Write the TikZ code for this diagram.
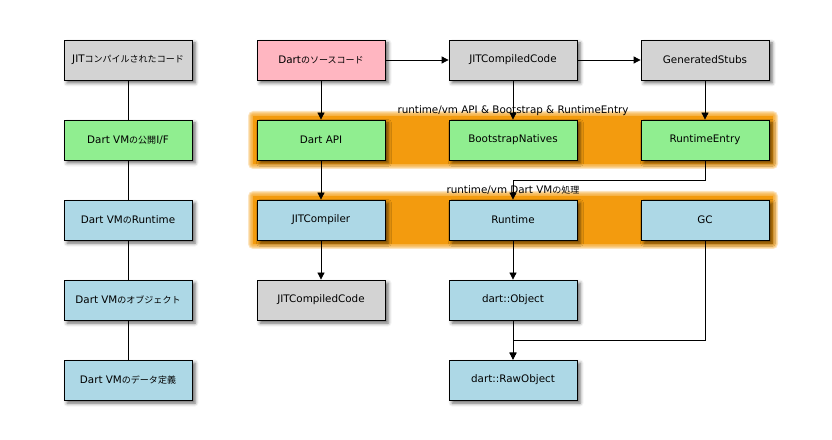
\documentclass[tikz,border=0pt]{standalone}
\usepackage{fontspec}
\setmainfont{DejaVu Sans}
\newfontfamily\jpfont[Scale=0.87]{Noto Sans CJK JP}
\usetikzlibrary{arrows.meta,shadows.blur}
\definecolor{srcpink}{RGB}{255,182,193}
\definecolor{codegray}{RGB}{211,211,211}
\definecolor{apigreen}{RGB}{144,238,144}
\definecolor{vmblue}{RGB}{173,216,230}
\definecolor{bandorange}{RGB}{243,155,14}
\tikzset{
    box/.style={draw, line width=0.8bp, minimum width=128bp, minimum height=40bp, inner sep=0pt,
        font=\fontsize{10.4}{12}\selectfont,
        blur shadow={shadow xshift=3bp, shadow yshift=-3bp, shadow blur radius=3.5bp, shadow opacity=60}},
    arr/.style={-{Triangle[width=7bp,length=7bp]}, line width=0.8bp},
    link/.style={line width=0.8bp},
    bandlabel/.style={font=\fontsize{10.4}{12}\selectfont, inner sep=0pt}
}
\begin{document}
\begin{tikzpicture}[x=1bp,y=-1bp]
                \useasboundingbox (0,0) rectangle (832,440);
                % orange bands
                \foreach \y in {140,220} {
                    \fill[bandorange] (253,\y-24) rectangle (773,\y+24);
                    \foreach \d in {1,...,5}
                        \fill[bandorange, opacity=0.25, rounded corners=\d bp] (253-\d,\y-24-\d) rectangle (773+\d,\y+24+\d);
                }
                \node[bandlabel] (bandapi) at (513,110.5) {runtime/vm API \& Bootstrap \& RuntimeEntry};
                \node[bandlabel] (bandvm) at (513,190.5) {runtime/vm Dart VM{\jpfont の処理}};
                % left column
                \node[box, fill=codegray] (lcode) at (128,60) {JIT{\jpfont コンパイルされたコード}};
                \node[box, fill=apigreen] (lapi) at (128,140) {Dart VM{\jpfont の公開}I/F};
                \node[box, fill=vmblue] (lrt) at (128,220) {Dart VM{\jpfont の}Runtime};
                \node[box, fill=vmblue] (lobj) at (128,300) {Dart VM{\jpfont のオブジェクト}};
                \node[box, fill=vmblue] (ldata) at (128,380) {Dart VM{\jpfont のデータ定義}};
                % main graph
                \node[box, fill=srcpink] (src) at (321,60) {Dart{\jpfont のソースコード}};
                \node[box, fill=codegray] (jit) at (513,60) {JITCompiledCode};
                \node[box, fill=codegray] (stubs) at (705,60) {GeneratedStubs};
                \node[box, fill=apigreen] (api) at (321,140) {Dart API};
                \node[box, fill=apigreen] (boot) at (513,140) {BootstrapNatives};
                \node[box, fill=apigreen] (entry) at (705,140) {RuntimeEntry};
                \node[box, fill=vmblue] (comp) at (321,220) {JITCompiler};
                \node[box, fill=vmblue] (rt) at (513,220) {Runtime};
                \node[box, fill=vmblue] (gc) at (705,220) {GC};
                \node[box, fill=codegray] (jitout) at (321,300) {JITCompiledCode};
                \node[box, fill=vmblue] (obj) at (513,300) {dart::Object};
                \node[box, fill=vmblue] (raw) at (513,380) {dart::RawObject};
                % connectors
                \draw[link] (lcode) -- (lapi);
                \draw[link] (lapi) -- (lrt);
                \draw[link] (lrt) -- (lobj);
                \draw[link] (lobj) -- (ldata);
                \draw[arr] (src) -- (jit);
                \draw[arr] (jit) -- (stubs);
                \draw[arr] (src) -- (api);
                \draw[arr] (jit) -- (boot);
                \draw[arr] (stubs) -- (entry);
                \draw[arr] (api) -- (comp);
                \draw[arr] (entry.south) -- ++(0,20) -| (rt.north);
                \draw[arr] (comp) -- (jitout);
                \draw[arr] (rt) -- (obj);
                \draw[arr] (obj) -- (raw);
                \draw[arr] (gc.south) -- ++(0,100) -| (raw.north);
\end{tikzpicture}
\end{document}
